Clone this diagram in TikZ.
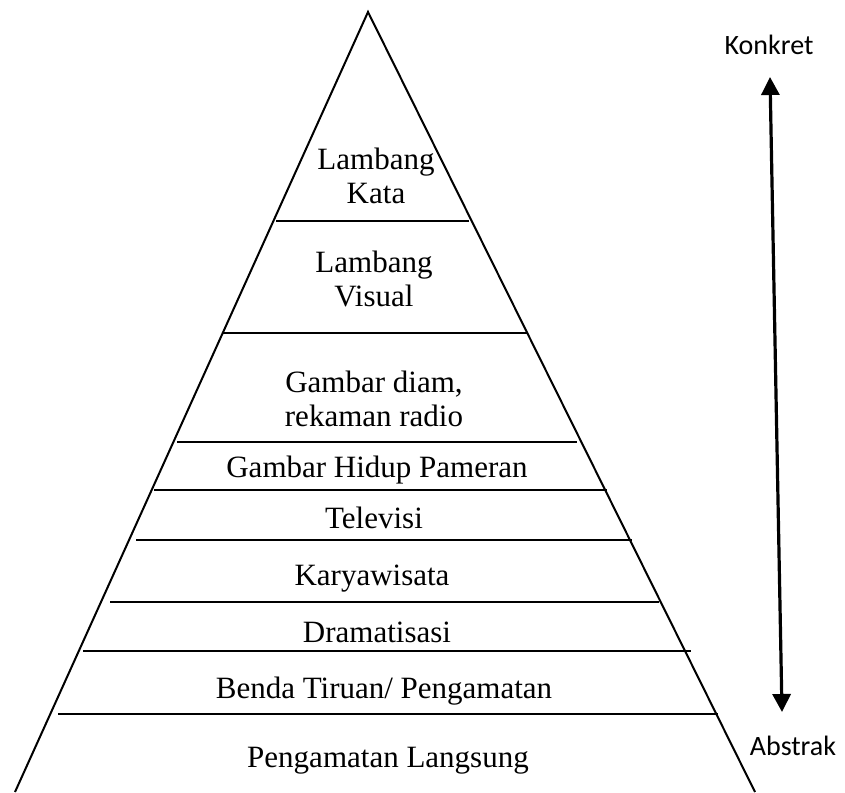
\documentclass[tikz,border=0pt]{standalone}
\usepackage{fontspec}
\setmainfont{Liberation Serif}
\newfontfamily\sidefont{Carlito}
\usetikzlibrary{arrows.meta}

\begin{document}
\begin{tikzpicture}[
      x=0.5pt, y=-0.5pt,
      tiertext/.style={font=\fontsize{15.5}{17}\selectfont, inner sep=0pt, align=center},
      sidetext/.style={font=\sidefont\fontsize{14}{17}\selectfont, inner sep=0pt},
      tierline/.style={line width=1pt}
    ]
    \useasboundingbox (0,0) rectangle (845,792);
    \coordinate (apex) at (368,12);
    \coordinate (left) at (15,792);
    \coordinate (right) at (755,792);
    \draw[tierline] (left) -- (apex) -- (right);
    \foreach \y/\xa/\xb in {221/276/469, 333/223/528, 442/177/577, 490/154/607,
                            540/136/632, 602/110/659, 651/83/691, 714/58/718}
      \draw[tierline] (\xa,\y) -- (\xb,\y);

    \node[tiertext] (kata) at (376,176) {Lambang\\Kata};
    \node[tiertext] (visual) at (374,279) {Lambang\\Visual};
    \node[tiertext] (diam) at (374,399) {Gambar diam,\\rekaman radio};
    \node[tiertext, anchor=base] (hidup) at (377,477) {Gambar Hidup Pameran};
    \node[tiertext, anchor=base] (tv) at (374,528) {Televisi};
    \node[tiertext, anchor=base] (wisata) at (372,585) {Karyawisata};
    \node[tiertext, anchor=base] (drama) at (377,642) {Dramatisasi};
    \node[tiertext, anchor=base] (tiruan) at (384,698) {Benda Tiruan/ Pengamatan};
    \node[tiertext, anchor=base] (langsung) at (388,767) {Pengamatan Langsung};

    \node[sidetext, anchor=base] (konkret) at (769,55) {Konkret};
    \node[sidetext, anchor=base] (abstrak) at (793,755) {Abstrak};
    \coordinate (up) at (770,77);
    \coordinate (down) at (782,712);
    \draw[line width=1.6pt, {Triangle[width=9pt,length=9pt]}-{Triangle[width=9pt,length=9pt]}] (down) -- (up);
\end{tikzpicture}
\end{document}
